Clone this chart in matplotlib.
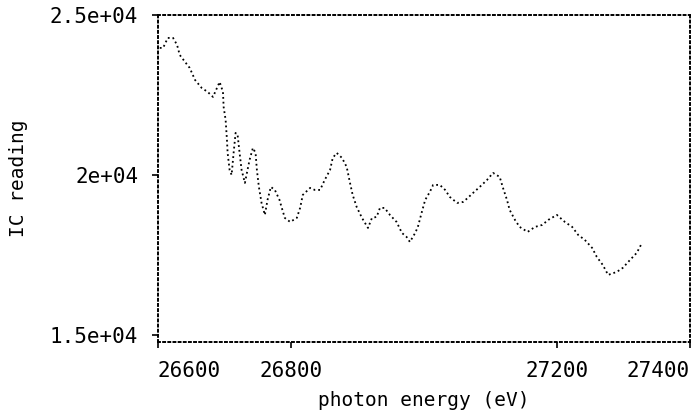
import matplotlib
matplotlib.use("Agg")
import matplotlib.pyplot as plt

# photon energy (eV) and IC reading
energy = [26603, 26608, 26615, 26623, 26629, 26633, 26641, 26648, 26656, 26666,
          26675, 26683, 26689, 26693, 26698, 26699, 26702, 26704, 26705, 26708,
          26711, 26714, 26717, 26720, 26723, 26726, 26731, 26734, 26738, 26743,
          26747, 26749, 26752, 26756, 26761, 26765, 26770, 26776, 26783, 26786,
          26791, 26799, 26809, 26814, 26818, 26829, 26836, 26844, 26851, 26859,
          26863, 26869, 26877, 26884, 26889, 26893, 26899, 26907, 26916, 26922,
          26929, 26934, 26941, 26949, 26959, 26967, 26974, 26979, 26987, 26991,
          26997, 27002, 27009, 27014, 27024, 27032, 27039, 27050, 27059, 27066,
          27074, 27084, 27095, 27104, 27114, 27119, 27125, 27129, 27137, 27144,
          27156, 27167, 27178, 27187, 27200, 27212, 27223, 27232, 27242, 27253,
          27260, 27269, 27277, 27290, 27299, 27310, 27320, 27328]
ic = [23970, 23970, 24281, 24281, 24063, 23750, 23531, 23344, 22969, 22719,
      22594, 22438, 22719, 22906, 22594, 22125, 21719, 21094, 20688, 20156,
      20000, 20688, 21313, 21250, 20688, 20156, 19750, 20063, 20469, 20844,
      20688, 20156, 19625, 19125, 18750, 19219, 19625, 19531, 19219, 19000,
      18656, 18531, 18656, 18969, 19375, 19594, 19531, 19531, 19844, 20156,
      20531, 20688, 20531, 20250, 19750, 19375, 19000, 18656, 18344, 18656,
      18688, 18969, 18969, 18750, 18531, 18188, 18063, 17906, 18188, 18375,
      18844, 19219, 19469, 19688, 19688, 19531, 19313, 19125, 19156, 19281,
      19438, 19625, 19844, 20063, 19938, 19594, 19219, 18906, 18594, 18375,
      18219, 18375, 18438, 18594, 18750, 18531, 18375, 18125, 17969, 17719,
      17438, 17188, 16875, 16969, 17094, 17344, 17563, 17875]

xticks = [26600, 26800, 27200, 27400]
xtick_labels = ["26600", "26800", "27200", "27400"]
yticks = [15000, 20000, 25000]
ytick_labels = ["1.5e+04", "2e+04", "2.5e+04"]

plt.rcParams['font.family'] = ['DejaVu Sans Mono']

fig = plt.figure(figsize=(6.92, 4.15), dpi=100)
ax = fig.add_axes([0.228, 0.176, 0.769, 0.788])

ax.plot(energy, ic, color='black', linestyle=':', linewidth=1.3)

ax.set_xlim(26600, 27400)
ax.set_ylim(14780, 25000)

for sp in ax.spines.values():
    sp.set_linestyle(':')
    sp.set_linewidth(1.4)

ax.set_xticks(xticks)
ax.set_xticklabels(xtick_labels, fontsize=15)
ax.set_yticks(yticks)
ax.set_yticklabels(ytick_labels, fontsize=15)
ax.tick_params(length=4, width=1.2, pad=10)

labels = ax.get_xticklabels()
labels[0].set_ha('left')
labels[-1].set_ha('right')

ax.set_xlabel("photon energy (eV)", fontsize=14)
ax.set_ylabel("IC reading", fontsize=14)
ax.xaxis.set_label_coords(0.5, -0.15)
ax.yaxis.set_label_coords(-0.244, 0.5)

fig.savefig("out.png", dpi=100)
